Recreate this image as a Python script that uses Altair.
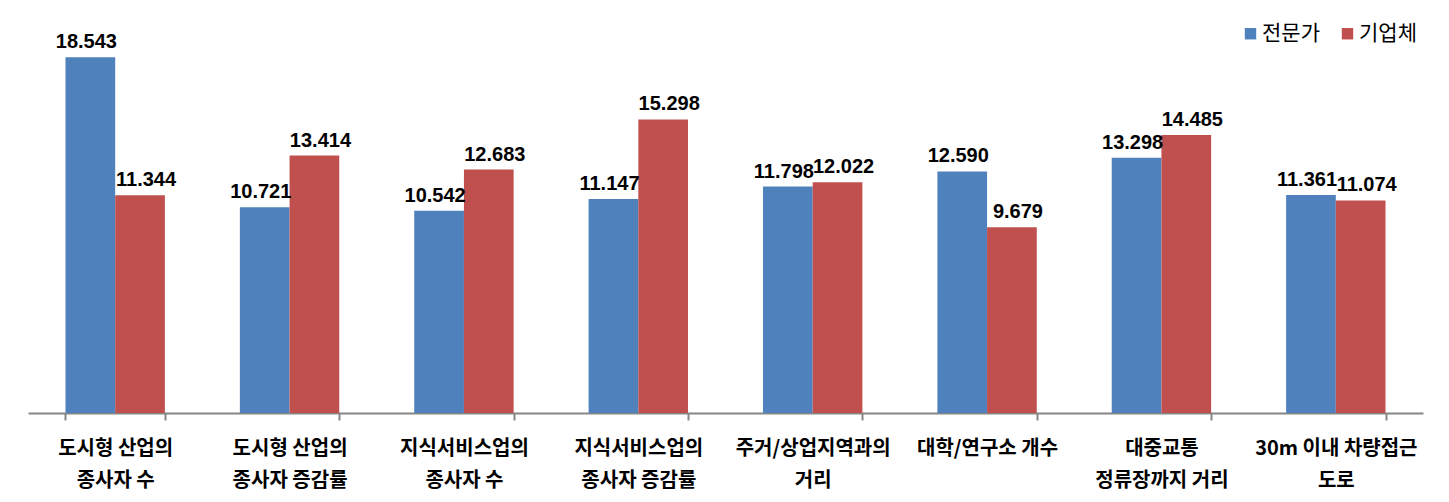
import altair as alt
import pandas as pd

# ─────────────────────────────────────────────────────────────────────────────
# DATI
# ─────────────────────────────────────────────────────────────────────────────
categorie = [
    "도시형 산업의|종사자 수",
    "도시형 산업의|종사자 증감률",
    "지식서비스업의|종사자 수",
    "지식서비스업의|종사자 증감률",
    "주거/상업지역과의|거리",
    "대학/연구소 개수",
    "대중교통|정류장까지 거리",
    "30m 이내 차량접근|도로",
]
serie = ["전문가", "기업체"]
valori_esperti = [18.543, 10.721, 10.542, 11.147, 11.798, 12.590, 13.298, 11.361]
valori_imprese = [11.344, 13.414, 12.683, 15.298, 12.022, 9.679, 14.485, 11.074]
colori = ["#4F81BD", "#C0504D"]

righe = []
for cat, a, b in zip(categorie, valori_esperti, valori_imprese):
    righe.append({"categoria": cat, "serie": serie[0], "valore": a})
    righe.append({"categoria": cat, "serie": serie[1], "valore": b})
df = pd.DataFrame(righe)

FONT_KR = "Noto Sans CJK KR"
FONT_NUM = "Liberation Sans"

# ─────────────────────────────────────────────────────────────────────────────
# GRAFICO
# ─────────────────────────────────────────────────────────────────────────────
x_enc = alt.X(
    "categoria:N",
    sort=categorie,
    title=None,
    scale=alt.Scale(paddingInner=0.43, paddingOuter=0.215),
    axis=alt.Axis(
        labelExpr="split(datum.label, '|')",
        labelAngle=0,
        labelFont=FONT_KR,
        labelFontSize=20,
        labelFontWeight="bold",
        labelColor="black",
        labelLineHeight=32,
        labelPadding=18,
        labelBaseline="top",
        tickBand="extent",
        tickSize=7,
        tickWidth=2,
        tickColor="#868686",
        domainColor="#868686",
        domainWidth=2,
    ),
)
y_enc = alt.Y("valore:Q", axis=None, scale=alt.Scale(domain=[0, 21], nice=False))
off_enc = alt.XOffset("serie:N", sort=serie, scale=alt.Scale(paddingInner=0, paddingOuter=0))

barre = (
    alt.Chart(df)
    .mark_bar()
    .encode(
        x=x_enc,
        xOffset=off_enc,
        y=y_enc,
        color=alt.Color(
            "serie:N",
            sort=serie,
            scale=alt.Scale(domain=serie, range=colori),
            legend=alt.Legend(
                title=None,
                orient="none",
                direction="horizontal",
                legendX=1212,
                legendY=13,
                symbolType="square",
                symbolSize=130,
                symbolStrokeWidth=0,
                labelFont=FONT_KR,
                labelFontSize=21,
                labelColor="black",
                columnPadding=17,
                labelOffset=1,
            ),
        ),
    )
)


# Etichette dei valori: leggermente spostate per serie, come nell'originale
def etichette_serie(nome, spostamento):
    return (
        alt.Chart(df)
        .transform_filter(alt.datum.serie == nome)
        .mark_text(
            dx=spostamento,
            dy=-9,
            baseline="alphabetic",
            font=FONT_NUM,
            fontSize=20,
            fontWeight="bold",
            color="black",
        )
        .encode(
            x=x_enc,
            xOffset=off_enc,
            y=y_enc,
            text=alt.Text("valore:Q", format=".3f"),
        )
    )


chart = (
    (barre + etichette_serie(serie[0], -4) + etichette_serie(serie[1], 6))
    .properties(
        width=1395,
        height=403,
        autosize=alt.AutoSizeParams(type="none"),
        padding={"left": 20, "top": 2, "right": 18, "bottom": 81},
    )
    .configure_view(stroke=None)
)

chart.save("out.html", embed_options={"renderer": "svg", "actions": False})
